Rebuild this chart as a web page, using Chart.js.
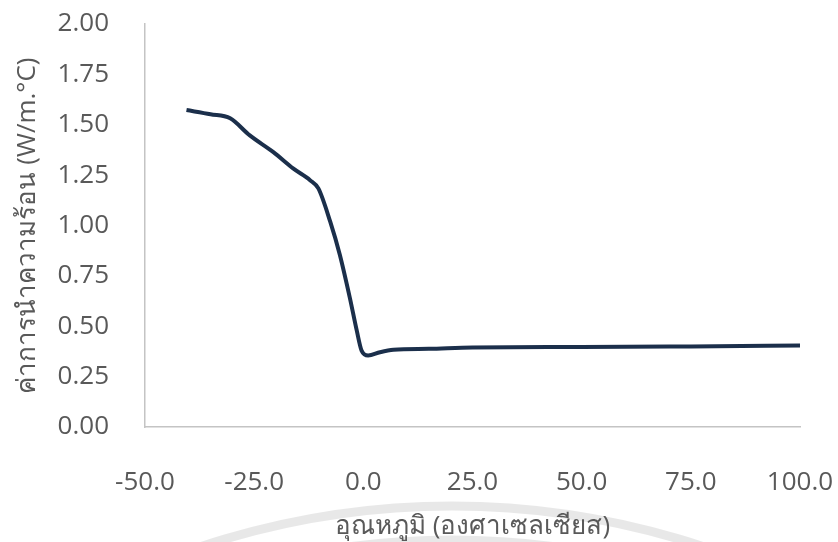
<!DOCTYPE html>
<html>
<head>
<meta charset="utf-8">
<style>
  html, body { margin: 0; padding: 0; background: #ffffff; }
  #wrap { width: 838px; height: 542px; }
</style>
</head>
<body>
<div id="wrap"><canvas id="lineChart" width="838" height="542"></canvas></div>
<script src="https://cdn.jsdelivr.net/npm/chart.js"></script>
<script>
    // temperature (°C) and thermal conductivity (W/m.°C)
    var temperature = [-40.5, -35.0, -30.5, -26.0, -20.6, -16.0, -12.2, -10.3, -7.6, -5.4, -3.1, -1.5, -0.4, 1.1, 3.8, 6.9, 15.0, 25.0, 50.0, 75.0, 100.0];
    var conductivity = [1.573, 1.552, 1.532, 1.447, 1.364, 1.282, 1.225, 1.184, 1.02, 0.856, 0.642, 0.478, 0.379, 0.355, 0.371, 0.383, 0.388, 0.395, 0.397, 0.400, 0.404];

    var xTitle = 'อุณหภูมิ (องศาเซลเซียส)';
    var yTitle = 'ค่าการนำความร้อน (W/m.°C)';

    var points = temperature.map(function (t, i) { return { x: t, y: conductivity[i] }; });

    var tickFont = { family: "'Open Sans', 'Noto Sans', sans-serif", size: 26 };
    var labelColor = '#595959';
    var axisColor = '#c4c4c4';

    // faint round stamp at the bottom of the page
    var stamp = {
        id: 'stamp',
        beforeDraw: function (chart) {
            var c = chart.ctx;
            c.save();
            c.strokeStyle = 'rgba(0,0,0,0.09)';
            c.lineWidth = 9;
            c.beginPath();
            c.arc(452, 506 + 796, 796, Math.PI * 1.32, Math.PI * 1.68);
            c.stroke();
            c.beginPath();
            c.arc(452, 540 + 762, 762, Math.PI * 1.36, Math.PI * 1.64);
            c.stroke();
            c.restore();
        }
    };

    var ctx = document.getElementById('lineChart').getContext('2d');
    var myChart = new Chart(ctx, {
        type: 'line',
        data: {
            datasets: [{
                data: points,
                borderColor: '#1b2f4b',
                borderWidth: 4,
                pointRadius: 0,
                fill: false,
                cubicInterpolationMode: 'monotone'
            }]
        },
        options: {
            responsive: false,
            animation: false,
            layout: { padding: { top: 24, right: 38, left: 0, bottom: 0 } },
            plugins: { legend: { display: false }, tooltip: { enabled: false } },
            scales: {
                x: {
                    type: 'linear',
                    min: -50,
                    max: 100,
                    ticks: {
                        stepSize: 25,
                        color: labelColor,
                        font: tickFont,
                        padding: 40,
                        maxRotation: 0,
                        callback: function (v) { return v.toFixed(1); }
                    },
                    grid: { drawOnChartArea: false, drawTicks: false },
                    border: { display: true, color: axisColor, width: 1.5 },
                    title: {
                        display: true,
                        text: xTitle,
                        color: labelColor,
                        font: tickFont,
                        padding: { top: 2, bottom: 0 }
                    },
                    afterFit: function (scale) {
                        scale.height = 115;
                        scale.paddingLeft = 0;
                        scale.paddingRight = 0;
                    }
                },
                y: {
                    min: 0,
                    max: 2,
                    ticks: {
                        stepSize: 0.25,
                        color: labelColor,
                        font: tickFont,
                        padding: 36,
                        callback: function (v) { return v.toFixed(2); }
                    },
                    grid: { drawOnChartArea: false, drawTicks: false },
                    border: { display: true, color: axisColor, width: 1.5 },
                    title: {
                        display: true,
                        text: yTitle,
                        color: labelColor,
                        font: tickFont,
                        padding: { top: 12, bottom: 0 }
                    },
                    afterFit: function (scale) {
                        scale.width = 145;
                        scale.paddingTop = 0;
                        scale.paddingBottom = 0;
                    }
                }
            }
        },
        plugins: [stamp]
    });
</script>
</body>
</html>
